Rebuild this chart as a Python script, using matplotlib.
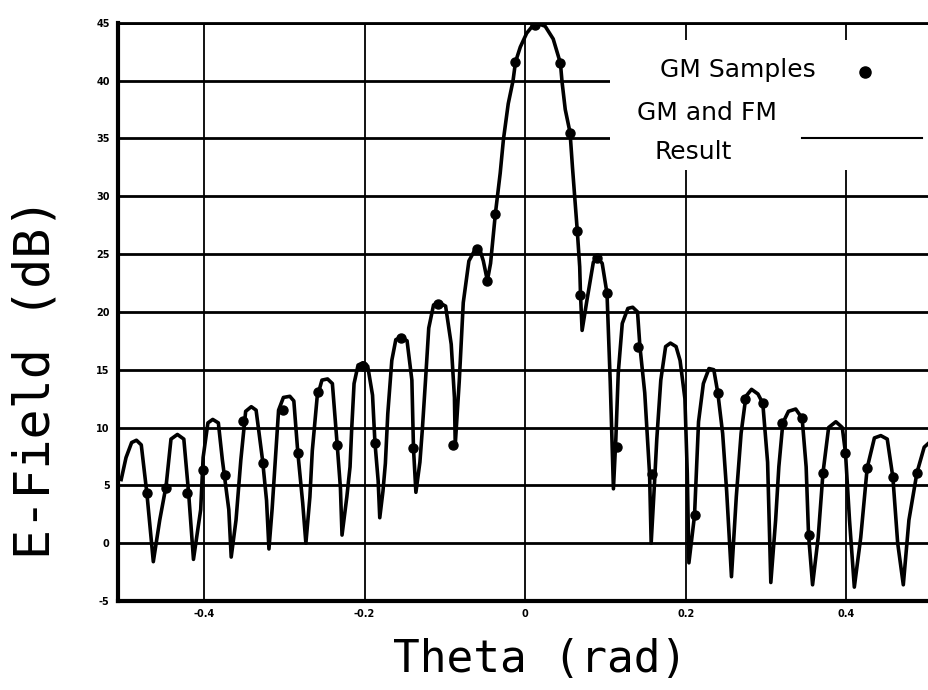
import matplotlib
matplotlib.use('Agg')
import matplotlib.pyplot as plt
from matplotlib.patches import Rectangle

# GM and FM result (curve), theta in rad, E-field in dB
theta = [
    -0.503, -0.497, -0.490, -0.484, -0.478, -0.471, -0.463,
    -0.455, -0.447, -0.441, -0.433, -0.425, -0.419, -0.413,
    -0.404, -0.401, -0.395, -0.389, -0.382, -0.377, -0.369, -0.366,
    -0.360, -0.354, -0.348, -0.341, -0.335, -0.327, -0.322, -0.319,
    -0.315, -0.311, -0.307, -0.301, -0.293, -0.288, -0.283, -0.277, -0.273,
    -0.268, -0.265, -0.259, -0.253, -0.246, -0.240, -0.234, -0.230, -0.228,
    -0.222, -0.218, -0.216, -0.213, -0.208, -0.202, -0.196, -0.190, -0.187, -0.183, -0.181,
    -0.177, -0.174, -0.171, -0.166, -0.161, -0.154, -0.147, -0.141, -0.139, -0.136,
    -0.131, -0.128, -0.124, -0.120, -0.114, -0.107, -0.099, -0.092, -0.088, -0.087,
    -0.082, -0.077, -0.070, -0.063, -0.056, -0.052, -0.047,
    -0.043, -0.037, -0.031, -0.027, -0.021, -0.015, -0.012, -0.006, 0.002, 0.009,
    0.017, 0.025, 0.035, 0.044, 0.046, 0.050, 0.056, 0.059, 0.062, 0.065, 0.068, 0.069, 0.071,
    0.077, 0.085, 0.090, 0.096, 0.102, 0.106, 0.110,
    0.113, 0.116, 0.121, 0.128, 0.134, 0.140, 0.143, 0.149, 0.155, 0.157,
    0.161, 0.164, 0.169, 0.175, 0.181, 0.188, 0.193, 0.199, 0.202, 0.204,
    0.211, 0.216, 0.222, 0.229, 0.235, 0.240, 0.246, 0.251, 0.257,
    0.263, 0.269, 0.275, 0.282, 0.290, 0.296, 0.302, 0.306,
    0.312, 0.316, 0.321, 0.328, 0.337, 0.345, 0.350, 0.353, 0.358,
    0.365, 0.371, 0.378, 0.387, 0.395, 0.399, 0.404, 0.410,
    0.418, 0.426, 0.435, 0.443, 0.451, 0.458, 0.464, 0.471,
    0.478, 0.488, 0.497, 0.505,
]
e_field = [
    5.5, 7.4, 8.7, 8.9, 8.5, 4.3, -1.6,
    2.0, 5.0, 9.0, 9.4, 9.0, 4.3, -1.4,
    2.9, 7.4, 10.4, 10.7, 10.4, 7.2, 2.9, -1.2,
    2.0, 7.2, 11.4, 11.8, 11.5, 7.2, 3.7, -0.5,
    3.0, 7.2, 11.5, 12.6, 12.7, 12.3, 7.8, 3.5, 0.0,
    4.0, 8.0, 12.6, 14.1, 14.2, 13.8, 8.5, 4.8, 0.7,
    4.0, 6.6, 9.8, 13.8, 15.4, 15.6, 15.3, 12.8, 8.7, 5.4, 2.2,
    4.5, 6.9, 11.2, 15.8, 17.6, 17.8, 17.5, 14.1, 8.2, 4.4,
    7.0, 9.8, 14.1, 18.6, 20.6, 20.8, 20.5, 17.2, 12.6, 8.5,
    14.0, 20.8, 24.4, 25.3, 25.3, 24.4, 22.7,
    24.2, 28.5, 32.0, 34.9, 38.0, 40.0, 41.6, 42.9, 44.1, 44.7,
    44.9, 44.7, 43.6, 41.5, 39.9, 37.5, 35.5, 32.5, 29.7, 27.0, 23.9, 21.5, 18.4,
    21.0, 24.3, 24.7, 24.2, 21.6, 14.0, 4.7,
    9.0, 14.7, 19.0, 20.3, 20.4, 20.0, 17.0, 13.0, 6.0, 0.0,
    5.0, 9.0, 14.1, 17.0, 17.3, 17.0, 15.8, 12.5, 6.0, -1.7,
    2.4, 10.5, 13.8, 15.1, 15.0, 13.0, 9.5, 4.5, -2.9,
    4.0, 9.5, 12.7, 13.3, 12.9, 12.1, 7.0, -3.4,
    2.0, 6.6, 10.4, 11.4, 11.6, 10.8, 6.6, 0.7, -3.6,
    0.5, 6.1, 10.0, 10.5, 10.0, 7.8, 2.0, -3.8,
    0.5, 6.5, 9.1, 9.3, 9.0, 5.7, 0.0, -3.6,
    2.0, 6.1, 8.3, 8.8,
]

# GM samples (dots)
sample_theta = [
    -0.471, -0.447, -0.421, -0.401, -0.374, -0.351, -0.326, -0.301, -0.283,
    -0.258, -0.234, -0.202, -0.187, -0.154, -0.139, -0.108, -0.090,
    -0.060, -0.047, -0.037, -0.012, 0.012, 0.044, 0.056, 0.065, 0.068,
    0.090, 0.102, 0.115, 0.141, 0.158, 0.211, 0.240, 0.274, 0.296,
    0.320, 0.345, 0.353, 0.371, 0.399, 0.426, 0.458, 0.488,
]
sample_db = [
    4.3, 4.8, 4.3, 6.3, 5.9, 10.6, 6.9, 11.5, 7.8,
    13.1, 8.5, 15.3, 8.7, 17.7, 8.2, 20.7, 8.5,
    25.4, 22.7, 28.5, 41.6, 44.8, 41.5, 35.5, 27.0, 21.5,
    24.7, 21.6, 8.3, 17.0, 6.0, 2.4, 13.0, 12.5, 12.1,
    10.4, 10.8, 0.7, 6.1, 7.8, 6.5, 5.7, 6.1,
]

x_ticks = [-0.4, -0.2, 0, 0.2, 0.4]
x_tick_labels = ['-0.4', '-0.2', '0', '0.2', '0.4']
y_ticks = [-5, 0, 5, 10, 15, 20, 25, 30, 35, 40, 45]

fig = plt.figure(figsize=(9.29, 6.9), dpi=100)
ax = fig.add_axes([0.127, 0.129, 0.873, 0.838])

# curve and samples
ax.plot(theta, e_field, color='black', linewidth=2.6, solid_joinstyle='round', zorder=3)
ax.plot(sample_theta, sample_db, 'o', color='black', markersize=6.5, zorder=4)

ax.set_xlim(-0.507, 0.503)
ax.set_ylim(-5, 45)

# ticks
ax.set_xticks(x_ticks)
ax.set_xticklabels(x_tick_labels, fontsize=7, fontweight='bold')
ax.set_yticks(y_ticks)
ax.set_yticklabels([str(v) for v in y_ticks], fontsize=7, fontweight='bold')
ax.tick_params(length=0, pad=6)

# grid: thick horizontal, thinner vertical
ax.grid(axis='y', color='black', linewidth=2.0)
ax.grid(axis='x', color='black', linewidth=1.3)

ax.spines['right'].set_visible(False)
ax.spines['top'].set_linewidth(2.0)
ax.spines['left'].set_linewidth(3.0)
ax.spines['bottom'].set_linewidth(3.0)

# axis labels
ax.set_xlabel('Theta (rad)', fontsize=32, family='DejaVu Sans Mono', va='center')
ax.xaxis.set_label_coords(0.52, -0.102)
ax.set_ylabel('E-Field (dB)', fontsize=36, family='DejaVu Sans Mono', va='center', ha='center')
ax.yaxis.set_label_coords(-0.102, 0.386)

# legend drawn by hand, white box over the grid
ax.add_patch(Rectangle((0.607, 0.745), 0.393, 0.225, transform=ax.transAxes,
                       facecolor='white', edgecolor='none', zorder=2))
ax.text(0.668, 0.919, 'GM Samples', transform=ax.transAxes, fontsize=18,
        ha='left', va='center', zorder=5)
ax.plot([0.921], [0.915], 'o', color='black', markersize=8, transform=ax.transAxes, zorder=5)
ax.text(0.640, 0.844, 'GM and FM', transform=ax.transAxes, fontsize=18,
        ha='left', va='center', zorder=5)
ax.text(0.662, 0.777, 'Result', transform=ax.transAxes, fontsize=18,
        ha='left', va='center', zorder=5)
ax.plot([0.843, 0.991], [0.801, 0.801], color='black', linewidth=1.5,
        transform=ax.transAxes, zorder=5)

plt.savefig('out.png', dpi=100)
